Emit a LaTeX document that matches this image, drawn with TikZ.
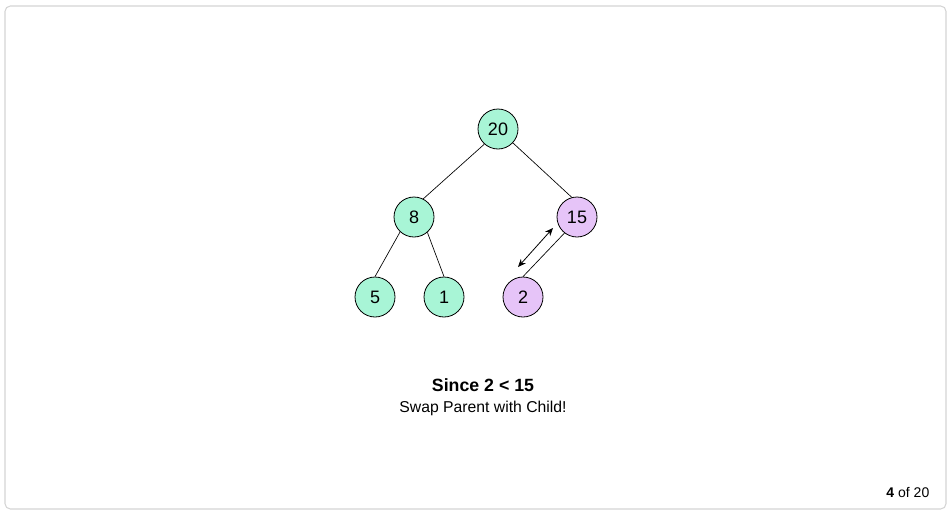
\documentclass[tikz,border=0pt]{standalone}
\usepackage{fontspec}
\setmainfont{Liberation Sans}
\usetikzlibrary{arrows.meta}
\definecolor{mint}{HTML}{A8F5D6}
\definecolor{lilac}{HTML}{E6C4F8}
\definecolor{frame}{HTML}{D4D4D4}
\begin{document}
\begin{tikzpicture}[x=0.75pt,y=-0.75pt,
  treenode/.style={circle,draw=black,line width=0.6pt,minimum size=30pt,inner sep=0pt,font=\fontsize{13.5}{15}\selectfont},
  green/.style={treenode,fill=mint},
  purple/.style={treenode,fill=lilac},
  edge/.style={draw=black,line width=0.5pt},
  swaparrow/.style={draw=black,line width=0.6pt,{Stealth[length=6pt,width=5pt]}-{Stealth[length=6pt,width=5pt]}}]
\useasboundingbox (0,0) rectangle (952,514);
\draw[frame,line width=0.8pt,rounded corners=4pt] (5,6) rectangle (946,509);
\node[green] (n20) at (498,129) {20};
\node[green] (n8) at (414,217) {8};
\node[purple] (n15) at (577,217) {15};
\node[green] (n5) at (375,297) {5};
\node[green] (n1) at (444,297) {1};
\node[purple] (n2) at (523,297) {2};
\draw[edge] (n20.228) -- (n8.63);
\draw[edge] (n20.317) -- (n15.105);
\draw[edge] (n8.227) -- (n5.north);
\draw[edge] (n8.311) -- (n1.north);
\draw[edge] (n15.232) -- (n2.north);
\coordinate (a1) at (518,267);
\coordinate (a2) at (553,228);
\draw[swaparrow] (a1) -- (a2);
\node[font=\bfseries\fontsize{13.3}{15}\selectfont] (title) at (483,385) {Since 2 < 15};
\node[font=\fontsize{11.8}{13}\selectfont] (sub) at (483,408) {Swap Parent with Child!};
\node[font=\fontsize{10.5}{12}\selectfont,anchor=east] (count) at (934,492) {\textbf{4} of 20};
\end{tikzpicture}
\end{document}
